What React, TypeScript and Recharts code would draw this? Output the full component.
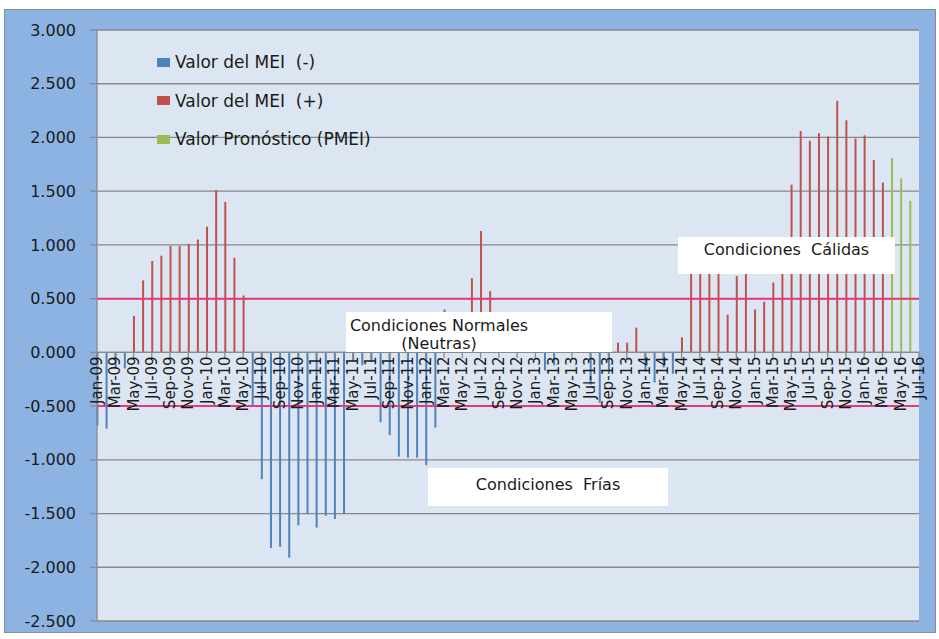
import React from "react";
import {
  ComposedChart,
  Bar,
  XAxis,
  YAxis,
  CartesianGrid,
  ReferenceLine,
  Legend,
} from "recharts";

// months, Jan-09 .. Jul-16
const meses = [
  "Jan-09", "Feb-09", "Mar-09", "Apr-09", "May-09", "Jun-09", "Jul-09", "Aug-09", "Sep-09", "Oct-09", "Nov-09", "Dec-09",
  "Jan-10", "Feb-10", "Mar-10", "Apr-10", "May-10", "Jun-10", "Jul-10", "Aug-10", "Sep-10", "Oct-10", "Nov-10", "Dec-10",
  "Jan-11", "Feb-11", "Mar-11", "Apr-11", "May-11", "Jun-11", "Jul-11", "Aug-11", "Sep-11", "Oct-11", "Nov-11", "Dec-11",
  "Jan-12", "Feb-12", "Mar-12", "Apr-12", "May-12", "Jun-12", "Jul-12", "Aug-12", "Sep-12", "Oct-12", "Nov-12", "Dec-12",
  "Jan-13", "Feb-13", "Mar-13", "Apr-13", "May-13", "Jun-13", "Jul-13", "Aug-13", "Sep-13", "Oct-13", "Nov-13", "Dec-13",
  "Jan-14", "Feb-14", "Mar-14", "Apr-14", "May-14", "Jun-14", "Jul-14", "Aug-14", "Sep-14", "Oct-14", "Nov-14", "Dec-14",
  "Jan-15", "Feb-15", "Mar-15", "Apr-15", "May-15", "Jun-15", "Jul-15", "Aug-15", "Sep-15", "Oct-15", "Nov-15", "Dec-15",
  "Jan-16", "Feb-16", "Mar-16", "Apr-16", "May-16", "Jun-16", "Jul-16",
];

// Valor del MEI (-)
const meiNeg = [
  -0.68, -0.71, -0.15, -0.15, null, null, null, null, null, null, null, null,
  null, null, null, null, null, -0.5, -1.18, -1.82, -1.81, -1.91, -1.61, -1.5,
  -1.63, -1.52, -1.55, -1.5, -0.08, -0.12, -0.08, -0.65, -0.77, -0.97, -0.98, -0.98,
  -1.05, -0.7, 0.4, null, null, null, null, null, null, null, null, null,
  null, -0.17, -0.12, null, null, null, -0.3, -0.47, -0.2, null, null, null,
  -0.18, -0.28, -0.14, -0.2, null, null, null, null, null, null, null, null,
  null, null, null, null, null, null, null, null, null, null, null, null,
  null, null, null, null, null, null, null,
];

// Valor del MEI (+)
const meiPos = [
  null, null, null, null, 0.34, 0.67, 0.85, 0.9, 0.99, 0.99, 1.01, 1.05,
  1.17, 1.51, 1.4, 0.88, 0.53, null, null, null, null, null, null, null,
  null, null, null, null, null, null, null, null, null, null, null, null,
  null, null, null, null, null, 0.69, 1.13, 0.57, null, null, null, null,
  null, null, null, null, null, null, null, null, null, 0.09, 0.09, 0.23,
  null, null, null, null, 0.14, 0.95, 0.9, 0.85, 0.9, 0.35, 0.71, 0.8,
  0.4, 0.47, 0.65, 0.95, 1.56, 2.06, 1.97, 2.04, 2.01, 2.34, 2.16, 1.99,
  2.02, 1.79, 1.58, null, null, null, null,
];

// Valor Pronóstico (PMEI)
const pmei = [
  null, null, null, null, null, null, null, null, null, null, null, null,
  null, null, null, null, null, null, null, null, null, null, null, null,
  null, null, null, null, null, null, null, null, null, null, null, null,
  null, null, null, null, null, null, null, null, null, null, null, null,
  null, null, null, null, null, null, null, null, null, null, null, null,
  null, null, null, null, null, null, null, null, null, null, null, null,
  null, null, null, null, null, null, null, null, null, null, null, null,
  null, null, null, 1.81, 1.62, 1.41, null,
];

const yTicks = [-2.5, -2, -1.5, -1, -0.5, 0, 0.5, 1, 1.5, 2, 2.5, 3];
const xTicks = meses.map((_, i) => i).filter((i) => i % 2 === 0);

const umbralCalido = 0.5;
const umbralFrio = -0.5;

const legendItems = [
  { label: "Valor del MEI  (-)", color: "#4f81bd" },
  { label: "Valor del MEI  (+)", color: "#c0504d" },
  { label: "Valor Pronóstico (PMEI)", color: "#9bbb59" },
];

const data = meses.map((mes, idx) => ({
  idx,
  mes,
  neg: meiNeg[idx],
  pos: meiPos[idx],
  pmei: pmei[idx],
}));

const W = 939;
const H = 639;
const X_AXIS_H = 1;
const MARGIN = { top: 30, right: 20, bottom: 17, left: 7 };
const Y_MIN = -2.5;
const Y_MAX = 3;
const PLOT_H = H - MARGIN.top - MARGIN.bottom - X_AXIS_H;
// x labels sit on the zero line, not at the bottom of the plot
const ZERO_UP = (PLOT_H * (0 - Y_MIN)) / (Y_MAX - Y_MIN);

const FONT = "'DejaVu Sans', Verdana, sans-serif";

const XTick = (props: any) => {
  const { x, y, payload } = props;
  return (
    <g transform={`translate(${x},${y - ZERO_UP})`}>
      <line x1={0} x2={0} y1={0} y2={6} stroke="#8a8a8a" strokeWidth={1.3} />
      <text
        transform="rotate(-90)"
        x={-4}
        y={0}
        textAnchor="end"
        dominantBaseline="central"
        fontSize={15}
        fill="#1a1a1a"
        fontFamily={FONT}
      >
        {meses[payload.value]}
      </text>
    </g>
  );
};

const renderLegend = () => (
  <div style={{ fontSize: 17, color: "#1a1a1a", fontFamily: FONT }}>
    {legendItems.map((it) => (
      <div
        key={it.label}
        style={{ display: "flex", alignItems: "center", height: 38.5, whiteSpace: "pre" }}
      >
        <span
          style={{ display: "inline-block", width: 13, height: 9, background: it.color, marginRight: 5 }}
        />
        {it.label}
      </div>
    ))}
  </div>
);

const boxStyle: React.CSSProperties = {
  position: "absolute",
  background: "#ffffff",
  fontSize: 16,
  color: "#1a1a1a",
  fontFamily: FONT,
  lineHeight: "18px",
  whiteSpace: "pre",
};

export default function App() {
  return (
    <div style={{ position: "absolute", left: 0, top: 0, width: W, height: H, background: "#fff" }}>
      <div
        style={{
          position: "absolute",
          left: 4,
          top: 9,
          width: 932,
          height: 624,
          background: "#8db3e2",
          border: "1px solid #8c8c8c",
          boxSizing: "border-box",
        }}
      />
      <div style={{ position: "absolute", left: 0, top: 0 }}>
        <ComposedChart width={W} height={H} data={data} margin={MARGIN} stackOffset="sign">
          <CartesianGrid vertical={false} stroke="#878787" strokeWidth={1.3} fill="#dce6f2" />
          <Bar dataKey="neg" stackId="mei" fill="#4f81bd" barSize={2} isAnimationActive={false} />
          <Bar dataKey="pos" stackId="mei" fill="#c0504d" barSize={2} isAnimationActive={false} />
          <Bar dataKey="pmei" stackId="mei" fill="#9bbb59" barSize={2} isAnimationActive={false} />
          <ReferenceLine y={0} stroke="#8a8a8a" strokeWidth={1.3} />
          <XAxis
            type="number"
            dataKey="idx"
            domain={[0, meses.length - 1]}
            ticks={xTicks}
            interval={0}
            height={X_AXIS_H}
            tickSize={0}
            tickMargin={0}
            axisLine={false}
            tickLine={false}
            tick={(p: any) => <XTick {...p} />}
          />
          <YAxis
            type="number"
            domain={[Y_MIN, Y_MAX]}
            ticks={yTicks}
            interval={0}
            width={90}
            tickSize={7}
            tickMargin={14}
            tickFormatter={(v: number) => v.toFixed(3)}
            tick={{ fill: "#1a1a1a", fontSize: 16, fontFamily: FONT }}
            axisLine={{ stroke: "#8a8a8a", strokeWidth: 1.3 }}
            tickLine={{ stroke: "#8a8a8a", strokeWidth: 1.3 }}
          />
          <ReferenceLine y={umbralCalido} stroke="#e6397a" strokeWidth={2} />
          <ReferenceLine y={umbralFrio} stroke="#e6397a" strokeWidth={2} />
          <Legend
            layout="vertical"
            align="center"
            verticalAlign="middle"
            content={renderLegend}
            wrapperStyle={{ left: 157, top: 43, width: "auto" }}
          />
        </ComposedChart>
      </div>

      <div style={{ ...boxStyle, left: 678, top: 237, width: 217, height: 37, textAlign: "center", paddingTop: 4, boxSizing: "border-box" }}>
        {"Condiciones  Cálidas"}
      </div>
      <div style={{ ...boxStyle, left: 346, top: 312, width: 266, height: 40 }}>
        <div style={{ position: "absolute", left: 2, top: 5, width: 182, textAlign: "center" }}>
          Condiciones Normales
          <br />
          (Neutras)
        </div>
      </div>
      <div style={{ ...boxStyle, left: 428, top: 468, width: 240, height: 38, textAlign: "center", paddingTop: 8, boxSizing: "border-box" }}>
        {"Condiciones  Frías"}
      </div>
    </div>
  );
}
